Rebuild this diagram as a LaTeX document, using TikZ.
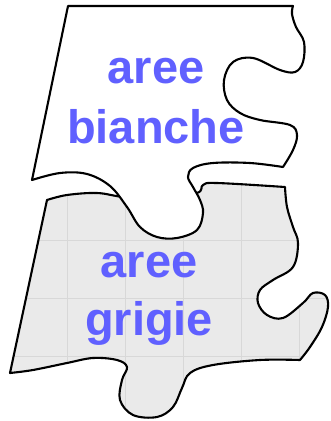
\documentclass[tikz,border=0pt]{standalone}
\usepackage{fontspec}
\setmainfont{Liberation Sans}
\definecolor{txtblue}{RGB}{96,96,255}
\definecolor{pgray}{RGB}{234,234,234}
\definecolor{gridgray}{RGB}{216,216,216}
\tikzset{
  piece/.style={draw=black, line width=2.1pt, line join=round},
  lbl/.style={text=txtblue, font=\fontsize{47}{56}\selectfont\bfseries, anchor=base, inner sep=0pt},
}
\begin{document}
\begin{tikzpicture}[x=1pt,y=-1pt]
\useasboundingbox (0,0) rectangle (330,421);
% gray piece
\path[save path=\graypath] (10,373) -- (47,200)
  -- plot[smooth,tension=0.6] coordinates {(47,200) (67,195) (97,193) (123,197) (160,200) (197,193) (203,185) (217,183) (285,187)}
  -- plot[smooth,tension=0.6] coordinates {(285,187) (287,207) (293,227) (298,243) (293,267) (273,280) (260,290) (258,303) (267,315) (283,318) (303,303) (313,293) (325,295) (328,307) (322,327) (310,347) (300,360)}
  -- plot[smooth,tension=0.6] coordinates {(300,360) (260,360) (213,365) (190,373) (182,388) (173,407) (157,417) (133,415) (120,400) (122,380) (127,367) (117,360) (93,358) (67,363) (33,370) (10,373)}
  -- cycle;
\fill[pgray, use path=\graypath];
\begin{scope}
  \clip[use path=\graypath];
  \foreach \gx in {67,125,183,241,299} \draw[gridgray, line width=0.6pt] (\gx,180) -- (\gx,421);
  \foreach \gy in {240,298,356} \draw[gridgray, line width=0.6pt] (0,\gy) -- (330,\gy);
\end{scope}
\draw[piece, use path=\graypath];
% white piece
\draw[piece, fill=white] (32,180) -- (68,6) -- (293,6)
  -- plot[smooth,tension=0.6] coordinates {(293,6) (292,14) (296,27) (304,42) (303,62) (295,72) (280,70) (253,58) (233,62) (224,80) (227,100) (240,113) (260,120) (290,125) (297,135) (293,150) (283,167)}
  -- plot[smooth,tension=0.6] coordinates {(283,167) (250,163) (213,163) (193,168) (188,177) (193,187) (200,200) (203,213) (197,230) (177,238) (157,237) (140,227) (127,207) (110,186) (87,174) (60,173) (32,180)}
  -- cycle;
% labels
\node[lbl] (w1) at (156,83) {aree};
\node[lbl] (w2) at (156,143) {bianche};
\node[lbl] (g1) at (149,277) {aree};
\node[lbl] (g2) at (149,335) {grigie};
\end{tikzpicture}
\end{document}
